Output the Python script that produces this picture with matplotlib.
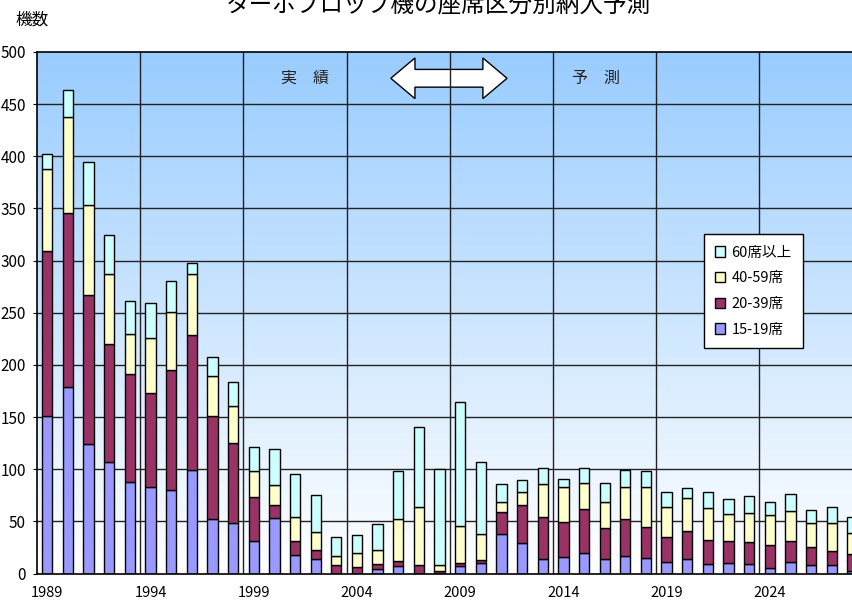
import numpy as np
import matplotlib
matplotlib.use("Agg")
import matplotlib.pyplot as plt
from matplotlib.patches import Patch, Polygon

plt.rcParams['font.family'] = ['Noto Sans CJK JP', 'DejaVu Sans']

# deliveries per year, by seat class (1989-2028)
years = np.arange(1989, 2029)
seats_15_19 = [151, 179, 124, 107, 88, 83, 80, 99, 52, 48,
               31, 53, 18, 14, 0, 0, 4, 7, 0, 0,
               7, 10, 38, 29, 14, 16, 20, 14, 17, 15,
               11, 14, 9, 10, 9, 5, 11, 8, 8, 2]
seats_20_39 = [158, 167, 143, 113, 103, 90, 115, 130, 99, 77,
               42, 13, 13, 9, 8, 6, 5, 5, 8, 2,
               3, 3, 21, 37, 40, 33, 42, 30, 35, 30,
               24, 27, 23, 21, 21, 22, 20, 17, 14, 17]
seats_40_59 = [79, 92, 86, 67, 39, 53, 56, 58, 38, 36,
               25, 19, 23, 17, 9, 14, 14, 40, 56, 6,
               36, 25, 10, 12, 32, 34, 25, 25, 31, 38,
               29, 31, 31, 26, 28, 29, 29, 23, 26, 20]
seats_60_up = [14, 26, 42, 38, 31, 33, 29, 11, 19, 23,
               23, 34, 41, 35, 18, 17, 24, 46, 76, 92,
               118, 69, 17, 12, 15, 8, 14, 18, 16, 15,
               14, 10, 15, 14, 16, 13, 16, 13, 16, 15]

labels = ["15-19席", "20-39席", "40-59席", "60席以上"]
colors = ["#9999FF", "#993366", "#FFFFCC", "#CCFFFF"]
xtick_years = np.arange(1989, 2029, 5)

fig = plt.figure(figsize=(8.53, 6.03), dpi=100)
ax = fig.add_axes([37 / 853, 29.5 / 603, 1 - 37 / 853, 521.5 / 603])

# sky gradient behind the plot
grad = np.linspace(0, 1, 256).reshape(-1, 1)
top = np.array([153, 204, 255]) / 255
cmap = matplotlib.colors.LinearSegmentedColormap.from_list("sky", [(1, 1, 1), top])
ax.imshow(grad, extent=[0, 1, 0, 1], transform=ax.transAxes, aspect="auto",
          cmap=cmap, origin="lower", zorder=0)

bottom = np.zeros(len(years))
for vals, lab, col in zip([seats_15_19, seats_20_39, seats_40_59, seats_60_up], labels, colors):
    ax.bar(years, vals, width=0.5, bottom=bottom, color=col, edgecolor="black",
           linewidth=1, label=lab, zorder=3)
    bottom += np.array(vals)

ax.set_xlim(1988.5, 2028.03)
ax.set_ylim(0, 500)
ax.set_yticks(np.arange(0, 501, 50))
ax.set_xticks(xtick_years)
ax.set_xticklabels([str(y) for y in xtick_years])
ax.tick_params(axis="x", length=0, pad=9, labelsize=10.5)
ax.tick_params(axis="y", length=3, pad=5, labelsize=11)

for v in np.arange(50, 500, 50):
    ax.axhline(v, color="#222222", linewidth=1, zorder=2)
for x in np.arange(1993.5, 2028, 5):
    ax.axvline(x, color="#222222", linewidth=1, zorder=2)
for s in ["left", "bottom", "top"]:
    ax.spines[s].set_linewidth(1.2)
    ax.spines[s].set_zorder(4)
ax.spines["right"].set_visible(False)

# actual / forecast marker
xl, xr = 2005.64, 2011.27
hl = 1.17
ym, bh, hh = 474.8, 8.5, 19.5
arrow = Polygon([(xl, ym), (xl + hl, ym + hh), (xl + hl, ym + bh), (xr - hl, ym + bh),
                 (xr - hl, ym + hh), (xr, ym), (xr - hl, ym - hh), (xr - hl, ym - bh),
                 (xl + hl, ym - bh), (xl + hl, ym - hh)], closed=True,
                facecolor="white", edgecolor="black", linewidth=1, zorder=1.5)
ax.add_patch(arrow)
ax.text(2001.46, ym, "実　績", ha="center", va="center", fontsize=11.5, color="#222222", zorder=5)
ax.text(2015.58, ym, "予　測", ha="center", va="center", fontsize=11.5, color="#222222", zorder=5)

handles = [Patch(facecolor=c, edgecolor="black", linewidth=1, label=l)
           for l, c in zip(labels, colors)][::-1]
leg = ax.legend(handles=handles, loc="upper left", bbox_to_anchor=(0.808, 0.665),
                fontsize=10.5, frameon=True, fancybox=False, framealpha=1,
                edgecolor="black", handlelength=0.7, handleheight=0.7,
                labelspacing=0.8, borderpad=0.8, handletextpad=0.4)
leg.get_frame().set_linewidth(1)
leg.set_zorder(6)

fig.text(15 / 853, 1 - 20 / 603, "機数", ha="left", va="center", fontsize=12)
fig.text(438 / 853, 1 - 11 / 603, "ターボプロップ機の座席区分別納入予測",
         ha="center", va="baseline", fontsize=17)

fig.savefig("out.png", dpi=100)
